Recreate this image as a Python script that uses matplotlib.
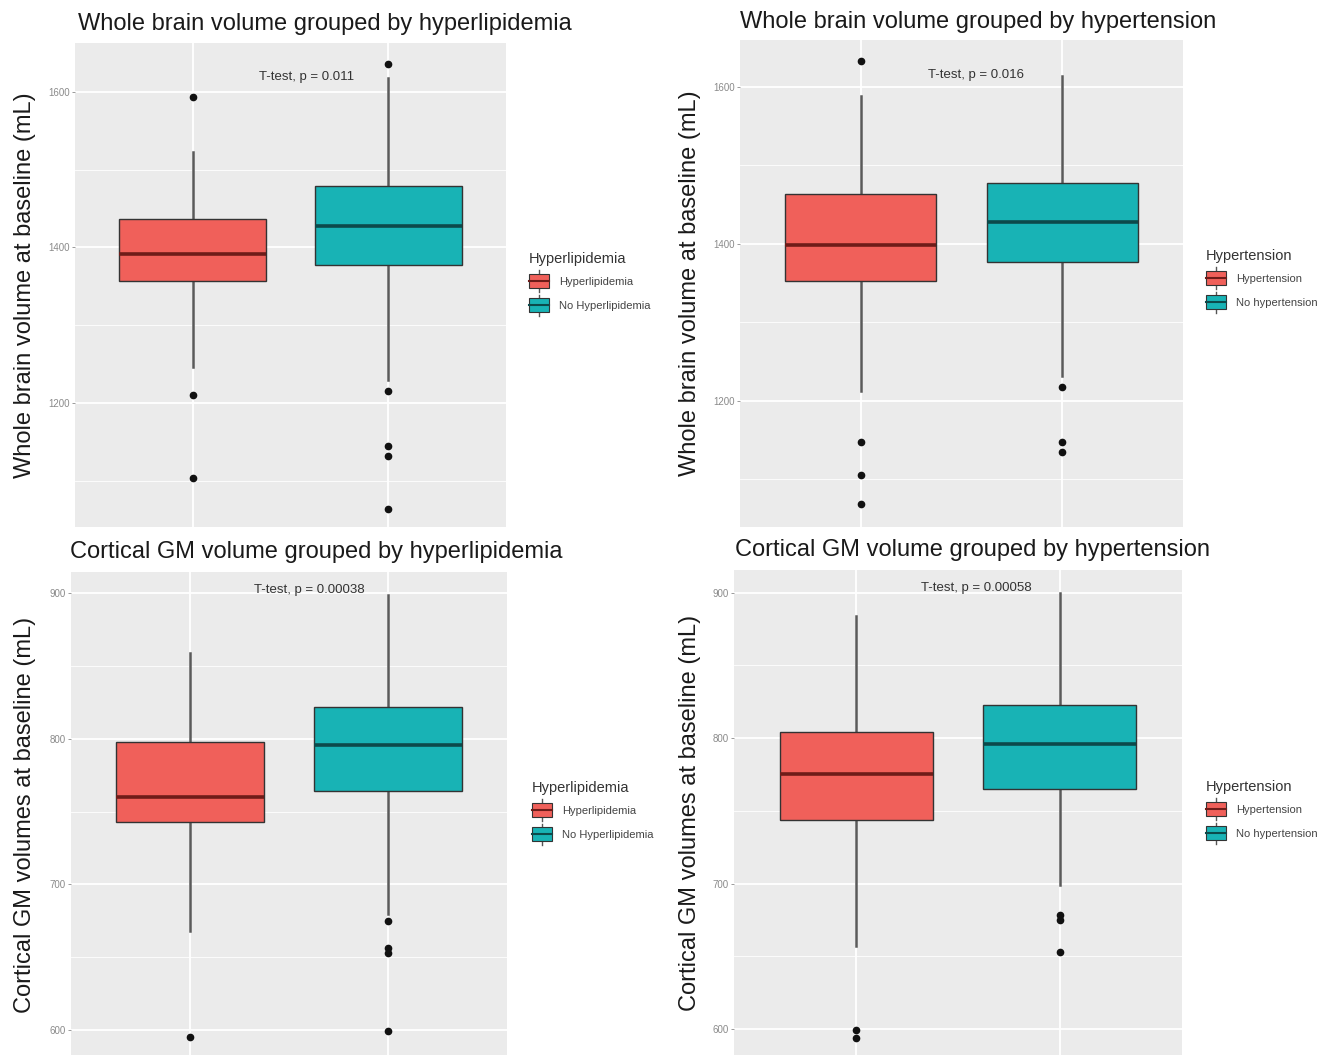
import matplotlib
matplotlib.use("Agg")
import matplotlib.pyplot as plt
from matplotlib.patches import Patch, Rectangle
from matplotlib.lines import Line2D
from matplotlib.legend_handler import HandlerBase
import numpy as np

plt.rcParams['font.family'] = ['Liberation Sans', 'DejaVu Sans']

# values (mL)
groups_hl = ["Hyperlipidemia", "No Hyperlipidemia"]
groups_ht = ["Hypertension", "No hypertension"]

# whole brain volume, grouped by hyperlipidemia
wb_hl_q1 = [1357, 1377]
wb_hl_med = [1392, 1428]
wb_hl_q3 = [1437, 1479]
wb_hl_lo = [1246, 1230]
wb_hl_hi = [1523, 1618]
wb_hl_out = [[1593, 1210, 1103], [1636, 1215, 1145, 1132, 1064]]

# whole brain volume, grouped by hypertension
wb_ht_q1 = [1353, 1377]
wb_ht_med = [1398, 1428]
wb_ht_q3 = [1463, 1477]
wb_ht_lo = [1212, 1231]
wb_ht_hi = [1588, 1614]
wb_ht_out = [[1633, 1147, 1105, 1068], [1217, 1147, 1135]]

# cortical GM volume, grouped by hyperlipidemia
gm_hl_q1 = [743, 764]
gm_hl_med = [760, 796]
gm_hl_q3 = [798, 822]
gm_hl_lo = [668, 680]
gm_hl_hi = [859, 899]
gm_hl_out = [[595], [675, 656, 653, 599.5]]

# cortical GM volume, grouped by hypertension
gm_ht_q1 = [744, 765]
gm_ht_med = [775, 796]
gm_ht_q3 = [804, 823]
gm_ht_lo = [657, 699]
gm_ht_hi = [884, 900]
gm_ht_out = [[599, 594], [678.5, 675, 653]]

p_labels = ["T-test, p = 0.011", "T-test, p = 0.016",
            "T-test, p = 0.00038", "T-test, p = 0.00058"]
titles = ["Whole brain volume grouped by hyperlipidemia",
          "Whole brain volume grouped by hypertension",
          "Cortical GM volume grouped by hyperlipidemia",
          "Cortical GM volume grouped by hypertension"]
ylabels = ["Whole brain volume at baseline (mL)",
           "Whole brain volume at baseline (mL)",
           "Cortical GM volumes at baseline (mL)",
           "Cortical GM volumes at baseline (mL)"]

RED = "#F0605A"
TEAL = "#18B3B5"
MED = ["#6e1c19", "#0c4a4b"]

W, H = 1341, 1055
fig = plt.figure(figsize=(W / 100, H / 100), dpi=100)
fig.patch.set_facecolor("white")


def frame(left, top, right, bottom):
    return [left / W, 1 - bottom / H, (right - left) / W, (bottom - top) / H]


def fx(px):
    return px / W


def fy(py):
    return 1 - py / H


class BoxKey(HandlerBase):
    # ggplot-like boxplot legend key: box, median line, whisker stubs
    def create_artists(self, legend, orig_handle, xdescent, ydescent,
                       width, height, fontsize, trans):
        x0, y0 = -xdescent, -ydescent
        cx = x0 + width / 2
        fc = orig_handle.get_facecolor()
        stub = Line2D([cx, cx], [y0 - 1, y0 + height + 1], color="#555555",
                      lw=1.0, transform=trans)
        box = Rectangle((x0, y0 + height * 0.12), width, height * 0.76,
                        facecolor=fc, edgecolor="#333333", lw=0.8,
                        transform=trans)
        mid = Line2D([x0, x0 + width], [y0 + height / 2] * 2,
                     color=orig_handle.get_label_color(), lw=1.5,
                     transform=trans)
        return [stub, box, mid]


class KeyPatch(Patch):
    def __init__(self, mcol, **kw):
        super().__init__(**kw)
        self._mcol = mcol

    def get_label_color(self):
        return self._mcol


panels = [
    dict(rect=frame(75, 43, 506, 527), ylim=(1040.5, 1663),
         major=[1200, 1400, 1600], minor=[1100, 1300, 1500],
         q1=wb_hl_q1, med=wb_hl_med, q3=wb_hl_q3, lo=wb_hl_lo, hi=wb_hl_hi,
         out=wb_hl_out, ptxt=(1.58, 1619), groups=groups_hl,
         legend_title="Hyperlipidemia", legend_at=(527, 250),
         title_at=(78, 30), ylab_at=(25, 285)),
    dict(rect=frame(740, 40, 1183, 527), ylim=(1039, 1659.5),
         major=[1200, 1400, 1600], minor=[1100, 1300, 1500],
         q1=wb_ht_q1, med=wb_ht_med, q3=wb_ht_q3, lo=wb_ht_lo, hi=wb_ht_hi,
         out=wb_ht_out, ptxt=(1.57, 1615), groups=groups_ht,
         legend_title="Hypertension", legend_at=(1204, 247),
         title_at=(740, 28), ylab_at=(690, 283)),
    dict(rect=frame(71, 572, 507, 1100), ylim=(551.9, 914.6),
         major=[600, 700, 800, 900], minor=[650, 750, 850],
         q1=gm_hl_q1, med=gm_hl_med, q3=gm_hl_q3, lo=gm_hl_lo, hi=gm_hl_hi,
         out=gm_hl_out, ptxt=(1.60, 902), groups=groups_hl,
         legend_title="Hyperlipidemia", legend_at=(530, 779),
         title_at=(70, 558), ylab_at=(25, 815)),
    dict(rect=frame(734, 570, 1182, 1100), ylim=(551.2, 915.5),
         major=[600, 700, 800, 900], minor=[650, 750, 850],
         q1=gm_ht_q1, med=gm_ht_med, q3=gm_ht_q3, lo=gm_ht_lo, hi=gm_ht_hi,
         out=gm_ht_out, ptxt=(1.59, 903), groups=groups_ht,
         legend_title="Hypertension", legend_at=(1204, 778),
         title_at=(735, 556), ylab_at=(690, 813)),
]

for i, p in enumerate(panels):
    ax = fig.add_axes(p["rect"])
    ax.set_facecolor("#EBEBEB")
    for s in ax.spines.values():
        s.set_visible(False)

    stats = []
    for k in range(2):
        stats.append(dict(q1=p["q1"][k], med=p["med"][k], q3=p["q3"][k],
                          whislo=p["lo"][k], whishi=p["hi"][k],
                          fliers=p["out"][k], label=p["groups"][k]))
    bp = ax.bxp(stats, positions=[1, 2], widths=0.75, patch_artist=True,
                showcaps=False, manage_ticks=False,
                boxprops=dict(edgecolor="#333333", lw=1.0),
                whiskerprops=dict(color="#5a5a5a", lw=1.8),
                flierprops=dict(marker="o", markersize=4.5,
                                markerfacecolor="#111111",
                                markeredgecolor="#111111"),
                medianprops=dict(lw=2.6))
    for k, (box, col) in enumerate(zip(bp["boxes"], [RED, TEAL])):
        box.set_facecolor(col)
        bp["medians"][k].set_color(MED[k])
    for w in bp["whiskers"]:
        w.set_zorder(1)

    ax.set_xlim(0.4, 2.6)
    ax.set_ylim(*p["ylim"])
    ax.set_yticks(p["major"])
    ax.set_yticks(p["minor"], minor=True)
    ax.set_xticks([1, 2])
    ax.set_xticklabels([])
    ax.tick_params(axis="x", length=0)
    ax.tick_params(axis="y", which="major", length=2.5, width=0.6,
                   color="#8a8a8a", labelsize=7, labelcolor="#8a8a8a", pad=1.5)
    ax.tick_params(axis="y", which="minor", length=0)
    ax.grid(True, which="major", color="white", lw=1.3)
    ax.grid(True, which="minor", axis="y", color="white", lw=0.6)
    ax.set_axisbelow(True)

    ax.text(p["ptxt"][0], p["ptxt"][1], p_labels[i], ha="center",
            va="center", fontsize=9.5, color="#333333")

    fig.text(fx(p["title_at"][0]), fy(p["title_at"][1]), titles[i],
             ha="left", va="baseline", fontsize=17, color="#1a1a1a")
    fig.text(fx(p["ylab_at"][0]), fy(p["ylab_at"][1]), ylabels[i],
             rotation=90, ha="center", va="center", fontsize=17,
             color="#1a1a1a")

    handles = [KeyPatch(MED[0], facecolor=RED, label=p["groups"][0]),
               KeyPatch(MED[1], facecolor=TEAL, label=p["groups"][1])]
    leg = fig.legend(handles=handles, title=p["legend_title"],
                     loc="upper left",
                     bbox_to_anchor=(fx(p["legend_at"][0]), fy(p["legend_at"][1])),
                     bbox_transform=fig.transFigure, frameon=False,
                     fontsize=8, title_fontsize=10.5, handlelength=1.8,
                     handleheight=2.2, labelspacing=0.5, handletextpad=0.9,
                     borderpad=0.2, borderaxespad=0,
                     handler_map={KeyPatch: BoxKey()})
    leg._legend_box.align = "left"
    for t in leg.get_texts():
        t.set_color("#444444")
    leg.get_title().set_color("#333333")

fig.savefig("out.png", dpi=100)
